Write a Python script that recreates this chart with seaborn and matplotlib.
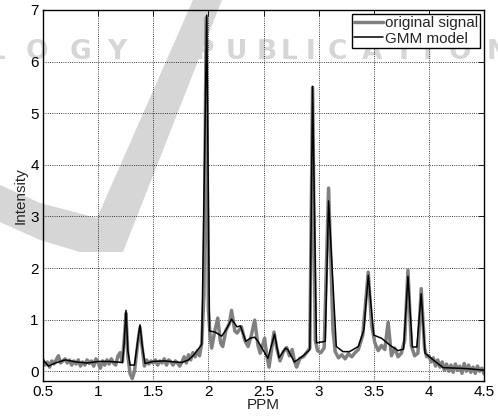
import numpy as np
import pandas as pd
import matplotlib
matplotlib.use('Agg')
import matplotlib.pyplot as plt
from matplotlib.patches import Polygon
import seaborn as sns

# GMM model (black)
model_ppm = [0.50, 0.55, 0.60, 0.70, 0.80, 0.90, 1.00, 1.10, 1.22, 1.235, 1.253, 1.27, 1.29, 1.33,
             1.36, 1.38, 1.40, 1.425, 1.50, 1.60, 1.70, 1.76, 1.82, 1.87, 1.94, 1.985, 2.01, 2.06,
             2.12, 2.16, 2.21, 2.26, 2.29, 2.34, 2.38, 2.42, 2.45, 2.54, 2.60, 2.64, 2.70, 2.72,
             2.78, 2.86, 2.92, 2.945, 2.98, 3.06, 3.09, 3.16, 3.22, 3.28, 3.36, 3.41, 3.45, 3.50,
             3.57, 3.65, 3.72, 3.77, 3.81, 3.85, 3.89, 3.93, 3.965, 4.05, 4.13, 4.25, 4.35, 4.50]
model_int = [0.22, 0.10, 0.15, 0.22, 0.18, 0.16, 0.19, 0.19, 0.17, 0.50, 1.18, 0.40, 0.12, 0.12,
             0.60, 0.90, 0.50, 0.15, 0.19, 0.20, 0.18, 0.17, 0.22, 0.32, 0.52, 6.90, 0.78, 0.76,
             0.68, 0.80, 1.01, 0.86, 0.88, 0.58, 0.64, 0.66, 0.58, 0.25, 0.72, 0.26, 0.45, 0.42,
             0.18, 0.30, 0.42, 5.52, 0.55, 0.58, 3.30, 0.48, 0.38, 0.38, 0.48, 0.80, 1.86, 0.70,
             0.64, 0.50, 0.40, 0.43, 1.84, 0.47, 0.47, 1.50, 0.35, 0.20, 0.07, 0.06, 0.05, 0.02]

# original signal (grey)
signal_ppm = [0.50, 0.52, 0.54, 0.56, 0.58, 0.60, 0.62, 0.64, 0.66, 0.68, 0.70, 0.72, 0.74, 0.76,
              0.78, 0.80, 0.82, 0.84, 0.86, 0.88, 0.90, 0.92, 0.94, 0.96, 0.98, 1.00, 1.02, 1.04,
              1.06, 1.08, 1.10, 1.12, 1.14, 1.16, 1.18, 1.20, 1.22, 1.24, 1.253, 1.27, 1.29, 1.31,
              1.33, 1.36, 1.38, 1.40, 1.42, 1.44, 1.46, 1.48, 1.50, 1.52, 1.54, 1.56, 1.58, 1.60,
              1.62, 1.64, 1.66, 1.68, 1.70, 1.72, 1.74, 1.76, 1.78, 1.80, 1.82, 1.84, 1.86, 1.88,
              1.90, 1.92, 1.94, 1.96, 1.98, 2.00, 2.015, 2.03, 2.06, 2.085, 2.11, 2.13, 2.16, 2.19,
              2.21, 2.24, 2.26, 2.30, 2.33, 2.36, 2.39, 2.42, 2.45, 2.47, 2.51, 2.53, 2.55, 2.575,
              2.595, 2.62, 2.65, 2.68, 2.71, 2.735, 2.76, 2.78, 2.80, 2.83, 2.86, 2.89, 2.92, 2.945,
              2.97, 2.99, 3.02, 3.05, 3.09, 3.13, 3.15, 3.18, 3.21, 3.24, 3.27, 3.30, 3.33, 3.36,
              3.40, 3.45, 3.48, 3.51, 3.54, 3.57, 3.60, 3.63, 3.66, 3.69, 3.72, 3.75, 3.78, 3.81,
              3.84, 3.87, 3.90, 3.93, 3.96, 3.98, 4.00, 4.02, 4.04, 4.06, 4.08, 4.10, 4.12, 4.14,
              4.16, 4.18, 4.20, 4.22, 4.24, 4.26, 4.28, 4.30, 4.32, 4.34, 4.36, 4.38, 4.40, 4.42,
              4.44, 4.46, 4.48, 4.50]
signal_int = [0.22, 0.12, 0.18, 0.08, 0.20, 0.14, 0.22, 0.30, 0.16, 0.20, 0.24, 0.16, 0.22, 0.12,
              0.20, 0.14, 0.22, 0.10, 0.18, 0.12, 0.22, 0.15, 0.20, 0.10, 0.24, 0.16, 0.06, 0.20,
              0.12, 0.22, 0.14, 0.24, 0.16, 0.12, 0.30, 0.36, 0.18, 0.70, 1.12, 0.30, -0.05, -0.14,
              0.00, 0.55, 0.85, 0.45, 0.10, 0.22, 0.14, 0.20, 0.16, 0.22, 0.12, 0.20, 0.16, 0.24,
              0.12, 0.22, 0.18, 0.12, 0.20, 0.16, 0.10, 0.18, 0.28, 0.16, 0.32, 0.22, 0.36, 0.28,
              0.40, 0.30, 0.55, 1.50, 6.85, 1.20, 0.70, 0.45, 0.80, 1.03, 0.55, 0.48, 0.80, 0.92,
              1.18, 0.78, 0.74, 0.86, 0.60, 0.48, 0.70, 0.99, 0.50, 0.35, 0.64, 0.30, 0.08, 0.45,
              0.76, 0.45, 0.20, 0.38, 0.46, 0.30, 0.42, 0.20, 0.08, 0.25, 0.28, 0.36, 0.45, 5.50,
              0.60, 0.40, 0.36, 0.45, 3.55, 0.80, 0.38, 0.26, 0.32, 0.24, 0.34, 0.28, 0.36, 0.42,
              0.70, 1.92, 0.90, 0.55, 0.40, 0.50, 0.42, 0.95, 0.30, 0.45, 0.28, 0.35, 0.60, 1.96,
              0.50, 0.30, 0.35, 1.60, 0.45, 0.28, 0.30, 0.18, 0.26, 0.10, 0.22, 0.08, 0.18, 0.02,
              0.14, 0.00, 0.12, -0.02, 0.14, 0.02, 0.10, -0.04, 0.15, 0.00, 0.12, -0.02, 0.08, -0.04,
              0.10, 0.00, 0.06, -0.05]

x_ticks = [0.5, 1, 1.5, 2, 2.5, 3, 3.5, 4, 4.5]
x_tick_labels = ['0.5', '1', '1.5', '2', '2.5', '3', '3.5', '4', '4.5']
y_ticks = [0, 1, 2, 3, 4, 5, 6, 7]

# watermark letters and their centres (pixels from the left)
wm_letters = list('LOGYPUBLICATION')
wm_centres = [-3, 37, 80, 117, 204, 236, 267, 289, 310, 337, 372, 404, 427, 460, 498]

signal = pd.DataFrame({'PPM': signal_ppm, 'Intensity': signal_int})
model = pd.DataFrame({'PPM': model_ppm, 'Intensity': model_int})

sns.set_style('white')
plt.rcParams['font.family'] = ['Liberation Sans', 'DejaVu Sans']

W, H = 498, 416
fig = plt.figure(figsize=(W / 100, H / 100), dpi=100)
ax = fig.add_axes([0.0863, 0.084, 0.8857, 0.892])
ax.set_facecolor('none')

# faint publisher watermark behind the plot
wm = '#d6d6d6'
check_px = [(193, 0), (222, 0), (123, 252), (80, 252), (40, 240), (0, 222), (0, 185),
            (40, 203), (97, 218)]
check = Polygon([(px / W, 1 - py / H) for px, py in check_px], closed=True,
                transform=fig.transFigure, facecolor=wm, edgecolor='none', zorder=-10)
fig.patches.append(check)
for ch, cx in zip(wm_letters, wm_centres):
    fig.text(cx / W, 1 - 52 / H, ch, fontsize=19, fontweight='heavy', color=wm,
             family='DejaVu Sans', ha='center', va='center', zorder=-10)

sns.lineplot(data=signal, x='PPM', y='Intensity', ax=ax, color='#808080', lw=2.5,
             sort=False, label='original signal')
sns.lineplot(data=model, x='PPM', y='Intensity', ax=ax, color='black', lw=1.1,
             sort=False, label='GMM model')

ax.set_xlim(0.5, 4.5)
ax.set_ylim(-0.19, 7)
ax.set_xticks(x_ticks)
ax.set_xticklabels(x_tick_labels)
ax.set_yticks(y_ticks)
ax.grid(True, color='black', linestyle=':', linewidth=0.6)
ax.tick_params(direction='in', length=4, width=0.6, top=True, right=True,
               labelsize=11, pad=3, colors='black')
for s in ax.spines.values():
    s.set_color('black')
    s.set_linewidth(1.0)
ax.set_xlabel('PPM', fontsize=11, labelpad=-1)
ax.set_ylabel('Intensity', fontsize=11, labelpad=2)

leg = ax.legend(loc='upper right', fontsize=11, frameon=True, fancybox=False,
                borderaxespad=0.25, handlelength=1.9, handletextpad=0.1,
                labelspacing=0.1, borderpad=0.15)
leg.get_frame().set_edgecolor('black')
leg.get_frame().set_linewidth(1.0)
leg.get_frame().set_alpha(1)

fig.savefig('out.png', dpi=100)
